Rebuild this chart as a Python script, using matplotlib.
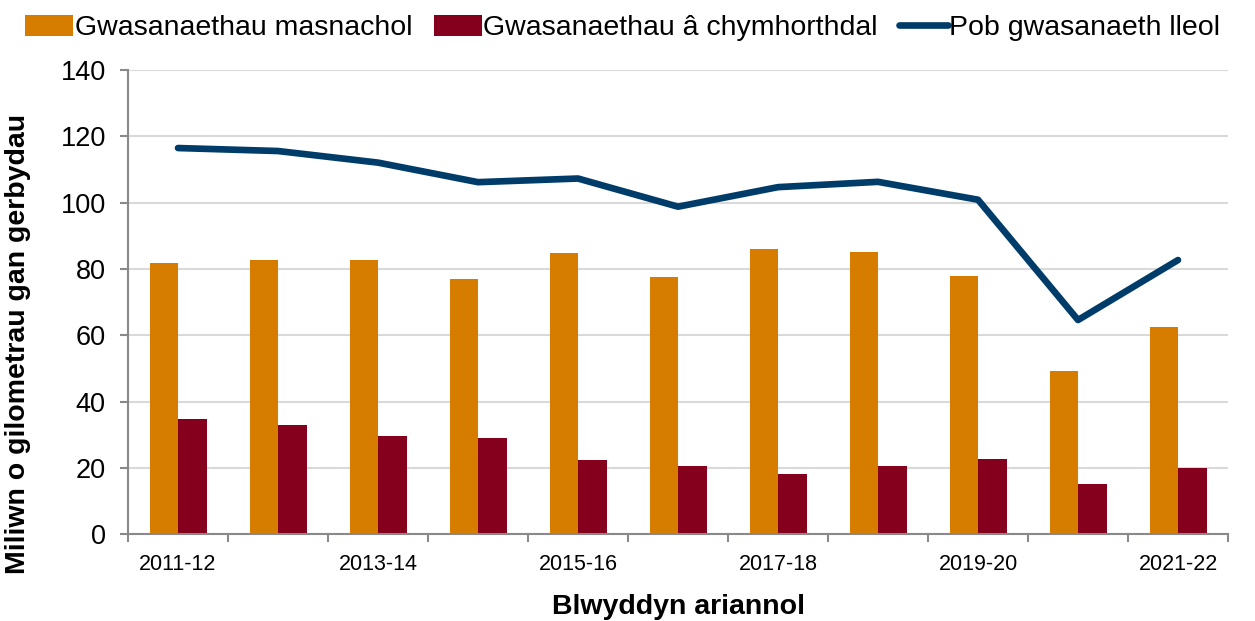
import numpy as np
import matplotlib
matplotlib.use("Agg")
import matplotlib.pyplot as plt

plt.rcParams['font.family'] = ['Liberation Sans', 'DejaVu Sans']

years = ['2011-12', '2012-13', '2013-14', '2014-15', '2015-16', '2016-17',
         '2017-18', '2018-19', '2019-20', '2020-21', '2021-22']
masnachol = [81.8, 82.6, 82.6, 76.9, 84.7, 77.7, 86.1, 85.1, 78.0, 49.2, 62.5]
chymhorthdal = [34.6, 32.8, 29.5, 28.9, 22.3, 20.4, 18.0, 20.5, 22.6, 15.0, 19.9]
pob_gwasanaeth = [116.5, 115.6, 112.1, 106.2, 107.3, 98.8, 104.7, 106.3, 100.9, 64.6, 82.7]

c_orange = '#D67D00'
c_red = '#85001C'
c_blue = '#003C69'
c_axis = '#898989'

fig = plt.figure(figsize=(12.55, 6.21), dpi=100)
ax = fig.add_axes([0.102, 0.140, 0.8765, 0.747])

x = np.arange(len(years))
w = 0.285
b1 = ax.bar(x - w / 2, masnachol, w, color=c_orange, label='Gwasanaethau masnachol', zorder=2)
b2 = ax.bar(x + w / 2, chymhorthdal, w, color=c_red, label='Gwasanaethau â chymhorthdal', zorder=2)
l1, = ax.plot(x, pob_gwasanaeth, color=c_blue, lw=4.8, solid_capstyle='round',
              label='Pob gwasanaeth lleol', zorder=3)

ax.set_xlim(-0.5, len(years) - 0.5)
ax.set_ylim(0, 140)
ax.set_yticks(range(0, 141, 20))
ax.yaxis.grid(True, color='#D9D9D9', lw=1.5, zorder=0)
ax.set_axisbelow(True)

ax.set_xticks(x[::2])
ax.set_xticklabels(years[::2])
ax.set_xticks(np.arange(-0.5, len(years), 1), minor=True)
ax.tick_params(axis='x', which='major', length=0, labelsize=15.5, pad=14)
ax.tick_params(axis='x', which='minor', length=6, color=c_axis, width=1.5)
ax.tick_params(axis='y', length=6, color=c_axis, width=1.5, labelsize=19.5, pad=10)

for s in ['top', 'right']:
    ax.spines[s].set_visible(False)
for s in ['left', 'bottom']:
    ax.spines[s].set_color(c_axis)
    ax.spines[s].set_linewidth(1.5)

ax.set_ylabel('Miliwn o gilometrau gan gerbydau', fontsize=20.5, fontweight='bold')
ax.yaxis.set_label_coords(-0.088, 0.41)
ax.set_xlabel('Blwyddyn ariannol', fontsize=20.5, fontweight='bold', labelpad=14)

fig.legend([b1, b2, l1], [b1.get_label(), b2.get_label(), l1.get_label()],
           loc='upper center', bbox_to_anchor=(0.496, 1.004), ncol=3, frameon=False,
           fontsize=20.5, handlelength=1.7, handleheight=0.8, handletextpad=0.05,
           columnspacing=0.75, borderaxespad=0.2)

fig.savefig('out.png', dpi=100)
